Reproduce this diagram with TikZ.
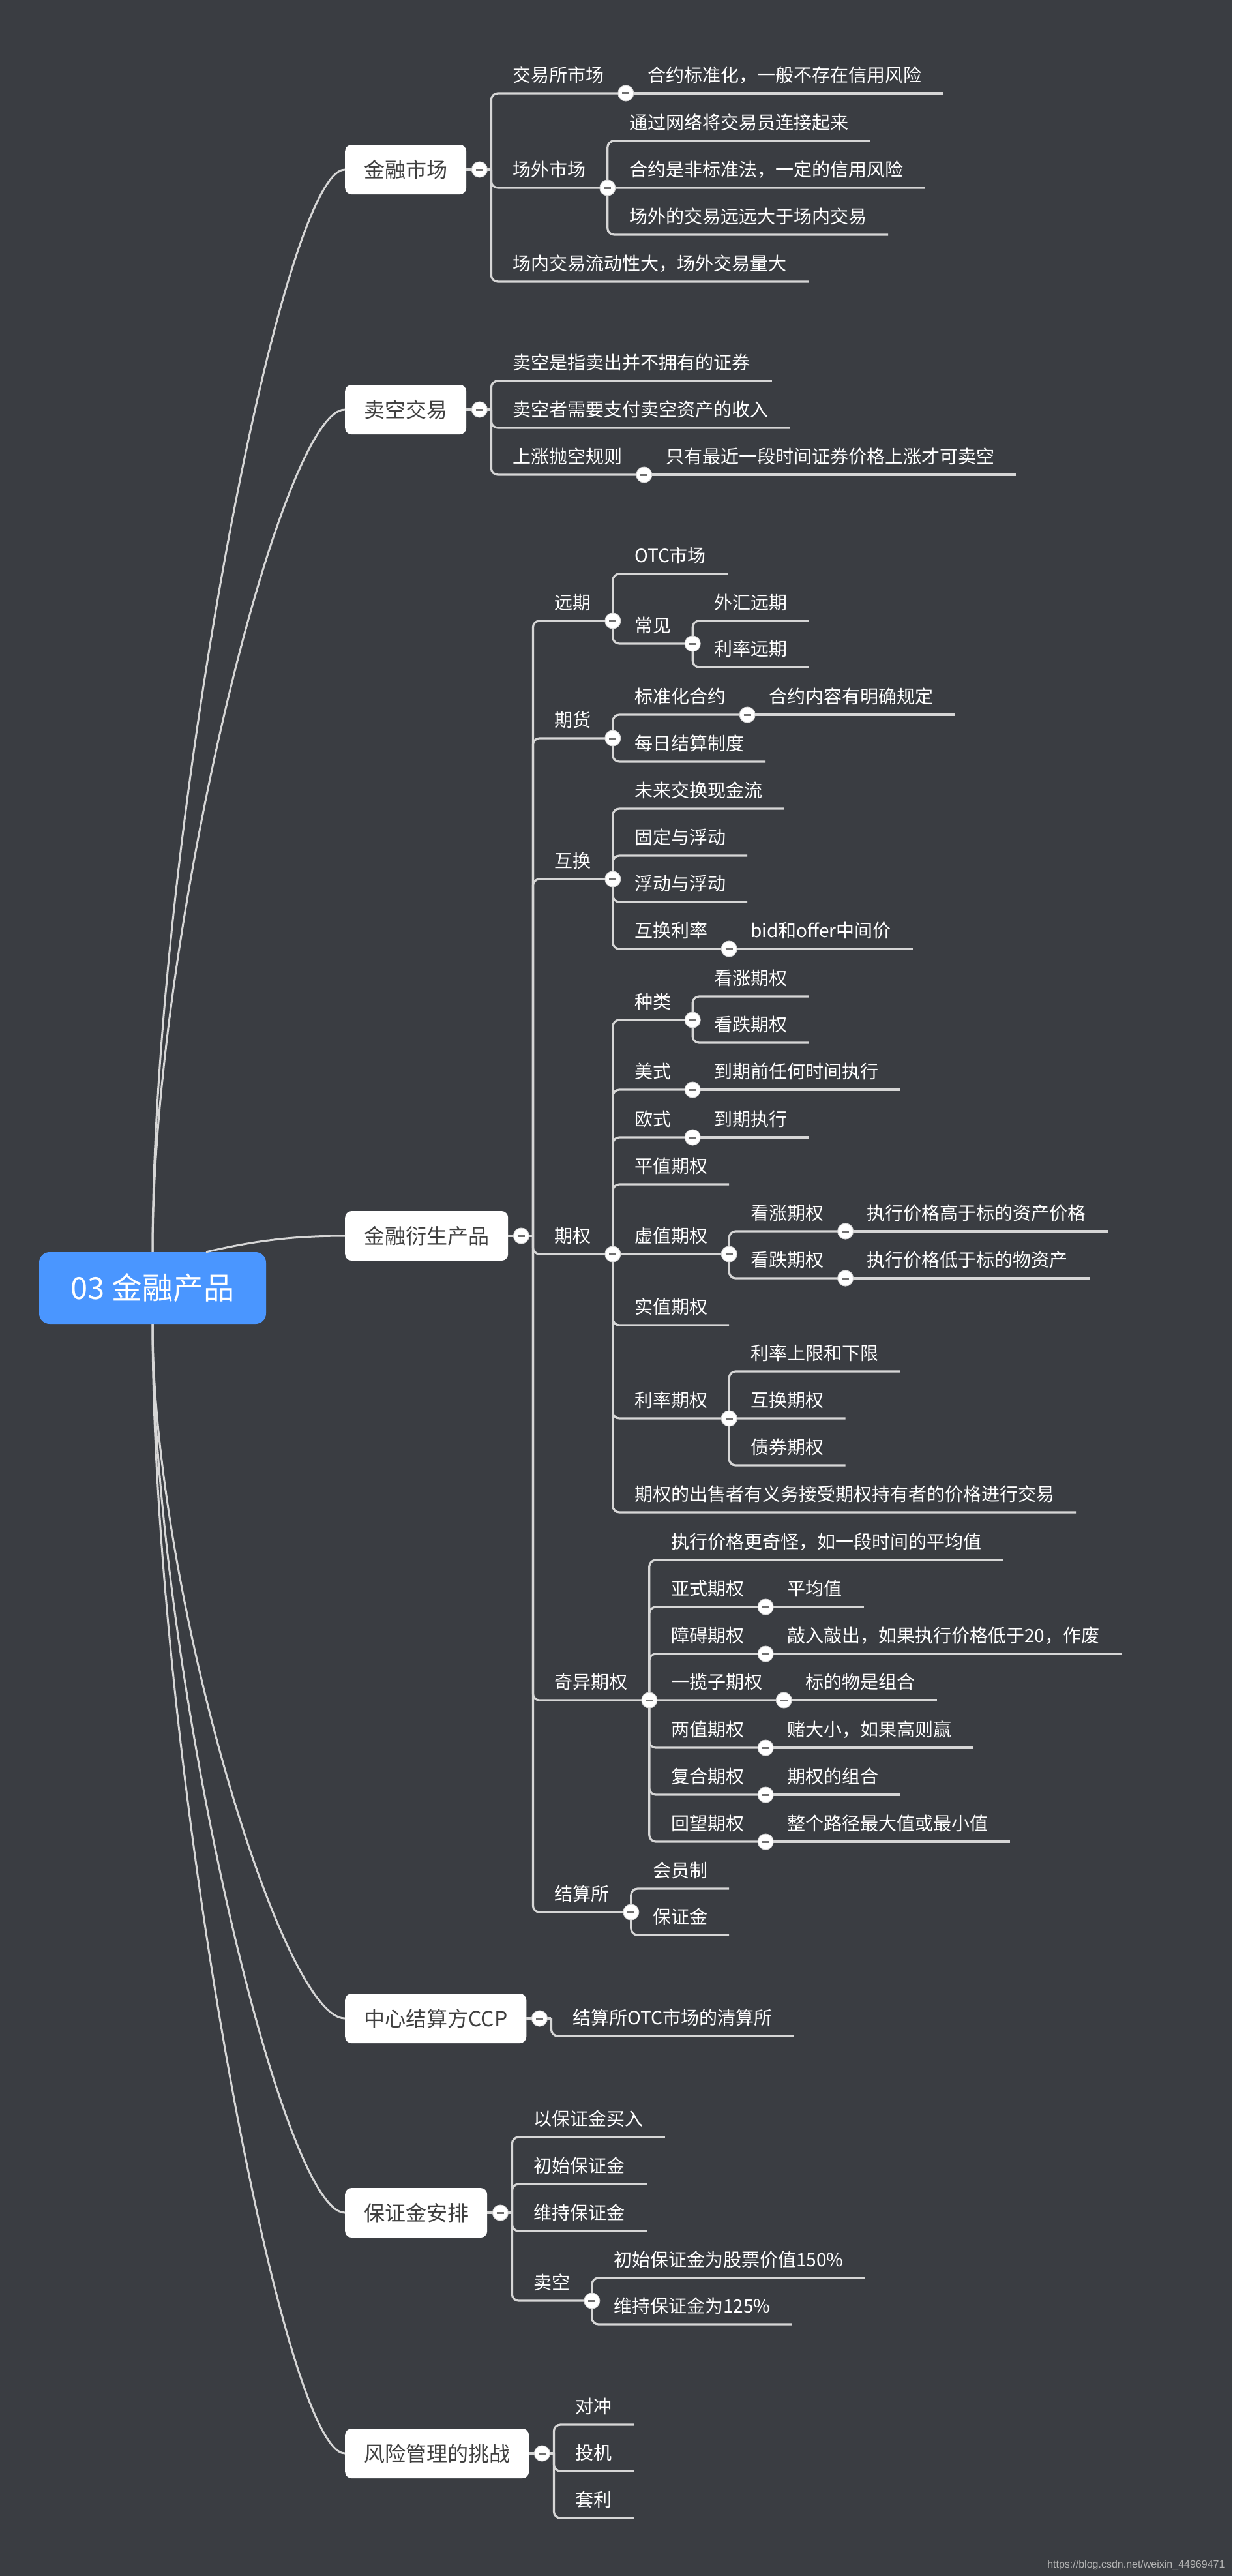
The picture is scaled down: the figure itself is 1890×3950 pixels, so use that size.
\documentclass[tikz,border=0pt]{standalone}
\usepackage{fontspec}
\setmainfont{Noto Sans CJK SC}
\newfontfamily\urlfont{Liberation Sans}
\usepackage{tikz}

\definecolor{bgdark}{HTML}{3A3D42}
\definecolor{linegray}{HTML}{D6D6D6}
\definecolor{rootblue}{HTML}{4A96FF}
\definecolor{boxtext}{HTML}{404040}
\definecolor{foldgray}{HTML}{6E6E6E}
\definecolor{wmgray}{HTML}{B4B4B4}

\begin{document}
\begin{tikzpicture}[x=1pt,y=-1pt,
  root/.style={fill=rootblue,text=white,rounded corners=16pt,minimum width=348pt,minimum height=110pt,font={\fontsize{47}{56}\selectfont}},
  topic/.style={fill=white,text=boxtext,rounded corners=10pt,anchor=west,inner xsep=29pt,minimum height=76pt,font={\fontsize{32}{38}\selectfont}},
  leaf/.style={text=white,anchor=south west,inner xsep=33pt,inner ysep=11pt,text height=22pt,text depth=6pt,font={\fontsize{28}{34}\selectfont}},
  trunk/.style={draw=linegray,line width=3pt},
  branch/.style={draw=linegray,line width=3.2pt,rounded corners=10pt},
  fold/.style={circle,fill=white,draw=linegray,line width=1pt,minimum size=24pt,inner sep=0pt,text=foldgray}]
\fill[bgdark,use as bounding box] (0,0) rectangle (1890,3950);

\node[root] (root) at (234,1975) {03 金融产品};

\node[topic] (m1) at (529,260) {金融市场};
\node[topic] (m2) at (529,628) {卖空交易};
\node[topic] (m3) at (529,1895) {金融衍生产品};
\node[topic] (m4) at (529,3095) {中心结算方CCP};
\node[topic] (m5) at (529,3393) {保证金安排};
\node[topic] (m6) at (529,3762) {风险管理的挑战};
\foreach \i in {1,...,6} \coordinate (m\i s) at ([xshift=38pt]m\i.east);

\draw[trunk] (root.north) .. controls (234,1300) and (431,260) .. (m1.west);
\draw[trunk] (root.north) .. controls (234,1435) and (431,628) .. (m2.west);
\draw[trunk] ([xshift=82pt]root.north) .. controls (380,1905) and (440,1895) .. (m3.west);
\draw[trunk] (root.south) .. controls (234,2430) and (431,3095) .. (m4.west);
\draw[trunk] (root.south) .. controls (234,2541) and (431,3393) .. (m5.west);
\draw[trunk] (root.south) .. controls (234,2680) and (431,3762) .. (m6.west);

\node[leaf] (a1) at (m1s |- 0,143) {交易所市场};
\node[leaf] (a11) at (a1.south east) {合约标准化，一般不存在信用风险};
\node[leaf] (a2) at (m1s |- 0,288) {场外市场};
\node[leaf] (a21) at (a2.south east |- 0,216) {通过网络将交易员连接起来};
\node[leaf] (a22) at (a2.south east) {合约是非标准法，一定的信用风险};
\node[leaf] (a23) at (a2.south east |- 0,360) {场外的交易远远大于场内交易};
\node[leaf] (a3) at (m1s |- 0,432) {场内交易流动性大，场外交易量大};

\node[leaf] (b1) at (m2s |- 0,584) {卖空是指卖出并不拥有的证券};
\node[leaf] (b2) at (m2s |- 0,656) {卖空者需要支付卖空资产的收入};
\node[leaf] (b3) at (m2s |- 0,728) {上涨抛空规则};
\node[leaf] (b31) at (b3.south east) {只有最近一段时间证券价格上涨才可卖空};

\node[leaf] (c1) at (m3s |- 0,952) {远期};
\node[leaf] (c11) at (c1.south east |- 0,880) {OTC市场};
\node[leaf] (c12) at (c1.south east |- 0,987) {常见};
\node[leaf] (c121) at (c12.south east |- 0,952) {外汇远期};
\node[leaf] (c122) at (c12.south east |- 0,1023) {利率远期};
\node[leaf] (c2) at (m3s |- 0,1132) {期货};
\node[leaf] (c21) at (c2.south east |- 0,1096) {标准化合约};
\node[leaf] (c211) at (c21.south east) {合约内容有明确规定};
\node[leaf] (c22) at (c2.south east |- 0,1168) {每日结算制度};
\node[leaf] (c3) at (m3s |- 0,1348) {互换};
\node[leaf] (c31) at (c3.south east |- 0,1240) {未来交换现金流};
\node[leaf] (c32) at (c3.south east |- 0,1312) {固定与浮动};
\node[leaf] (c33) at (c3.south east |- 0,1383) {浮动与浮动};
\node[leaf] (c34) at (c3.south east |- 0,1455) {互换利率};
\node[leaf] (c341) at (c34.south east) {bid和offer中间价};
\node[leaf] (c4) at (m3s |- 0,1923) {期权};
\node[leaf] (c41) at (c4.south east |- 0,1564) {种类};
\node[leaf] (c411) at (c41.south east |- 0,1528) {看涨期权};
\node[leaf] (c412) at (c41.south east |- 0,1599) {看跌期权};
\node[leaf] (c42) at (c4.south east |- 0,1671) {美式};
\node[leaf] (c421) at (c42.south east) {到期前任何时间执行};
\node[leaf] (c43) at (c4.south east |- 0,1744) {欧式};
\node[leaf] (c431) at (c43.south east) {到期执行};
\node[leaf] (c44) at (c4.south east |- 0,1816) {平值期权};
\node[leaf] (c45) at (c4.south east) {虚值期权};
\node[leaf] (c451) at (c45.south east |- 0,1888) {看涨期权};
\node[leaf] (c4511) at (c451.south east) {执行价格高于标的资产价格};
\node[leaf] (c452) at (c45.south east |- 0,1960) {看跌期权};
\node[leaf] (c4521) at (c452.south east) {执行价格低于标的物资产};
\node[leaf] (c46) at (c4.south east |- 0,2032) {实值期权};
\node[leaf] (c47) at (c4.south east |- 0,2175) {利率期权};
\node[leaf] (c471) at (c47.south east |- 0,2103) {利率上限和下限};
\node[leaf] (c472) at (c47.south east) {互换期权};
\node[leaf] (c473) at (c47.south east |- 0,2247) {债券期权};
\node[leaf] (c48) at (c4.south east |- 0,2319) {期权的出售者有义务接受期权持有者的价格进行交易};
\node[leaf] (c5) at (m3s |- 0,2607) {奇异期权};
\node[leaf] (c51) at (c5.south east |- 0,2392) {执行价格更奇怪，如一段时间的平均值};
\node[leaf] (c52) at (c5.south east |- 0,2464) {亚式期权};
\node[leaf] (c521) at (c52.south east) {平均值};
\node[leaf] (c53) at (c5.south east |- 0,2536) {障碍期权};
\node[leaf] (c531) at (c53.south east) {敲入敲出，如果执行价格低于20，作废};
\node[leaf] (c54) at (c5.south east) {一揽子期权};
\node[leaf] (c541) at (c54.south east) {标的物是组合};
\node[leaf] (c55) at (c5.south east |- 0,2680) {两值期权};
\node[leaf] (c551) at (c55.south east) {赌大小，如果高则赢};
\node[leaf] (c56) at (c5.south east |- 0,2752) {复合期权};
\node[leaf] (c561) at (c56.south east) {期权的组合};
\node[leaf] (c57) at (c5.south east |- 0,2824) {回望期权};
\node[leaf] (c571) at (c57.south east) {整个路径最大值或最小值};
\node[leaf] (c6) at (m3s |- 0,2932) {结算所};
\node[leaf] (c61) at (c6.south east |- 0,2896) {会员制};
\node[leaf] (c62) at (c6.south east |- 0,2967) {保证金};

\node[leaf] (d1) at (m4s |- 0,3122) {结算所OTC市场的清算所};

\node[leaf] (e1) at (m5s |- 0,3277) {以保证金买入};
\node[leaf] (e2) at (m5s |- 0,3349) {初始保证金};
\node[leaf] (e3) at (m5s |- 0,3421) {维持保证金};
\node[leaf] (e4) at (m5s |- 0,3528) {卖空};
\node[leaf] (e41) at (e4.south east |- 0,3493) {初始保证金为股票价值150\%};
\node[leaf] (e42) at (e4.south east |- 0,3564) {维持保证金为125\%};

\node[leaf] (f1) at (m6s |- 0,3718) {对冲};
\node[leaf] (f2) at (m6s |- 0,3789) {投机};
\node[leaf] (f3) at (m6s |- 0,3861) {套利};

\foreach \i in {1,...,6} \draw[branch] (m\i.east)--(m\i s);
\foreach \c in {a1,a2,a3} \draw[branch] (m1s) |- (\c.south east);
\foreach \c in {b1,b2,b3} \draw[branch] (m2s) |- (\c.south east);
\foreach \c in {c1,c2,c3,c4,c5,c6} \draw[branch] (m3s) |- (\c.south east);
\draw[branch] (m4s) |- (d1.south east);
\foreach \c in {e1,e2,e3,e4} \draw[branch] (m5s) |- (\c.south east);
\foreach \c in {f1,f2,f3} \draw[branch] (m6s) |- (\c.south east);

\draw[branch] (a1.south east)--(a11.south east);
\foreach \c in {a21,a22,a23} \draw[branch] (a2.south east) |- (\c.south east);
\draw[branch] (b3.south east)--(b31.south east);
\foreach \c in {c11,c12} \draw[branch] (c1.south east) |- (\c.south east);
\foreach \c in {c121,c122} \draw[branch] (c12.south east) |- (\c.south east);
\foreach \c in {c21,c22} \draw[branch] (c2.south east) |- (\c.south east);
\draw[branch] (c21.south east)--(c211.south east);
\foreach \c in {c31,c32,c33,c34} \draw[branch] (c3.south east) |- (\c.south east);
\draw[branch] (c34.south east)--(c341.south east);
\foreach \c in {c41,c42,c43,c44,c45,c46,c47,c48} \draw[branch] (c4.south east) |- (\c.south east);
\foreach \c in {c411,c412} \draw[branch] (c41.south east) |- (\c.south east);
\draw[branch] (c42.south east)--(c421.south east);
\draw[branch] (c43.south east)--(c431.south east);
\foreach \c in {c451,c452} \draw[branch] (c45.south east) |- (\c.south east);
\draw[branch] (c451.south east)--(c4511.south east);
\draw[branch] (c452.south east)--(c4521.south east);
\foreach \c in {c471,c472,c473} \draw[branch] (c47.south east) |- (\c.south east);
\foreach \c in {c51,c52,c53,c54,c55,c56,c57} \draw[branch] (c5.south east) |- (\c.south east);
\draw[branch] (c52.south east)--(c521.south east);
\draw[branch] (c53.south east)--(c531.south east);
\draw[branch] (c54.south east)--(c541.south east);
\draw[branch] (c55.south east)--(c551.south east);
\draw[branch] (c56.south east)--(c561.south east);
\draw[branch] (c57.south east)--(c571.south east);
\foreach \c in {c61,c62} \draw[branch] (c6.south east) |- (\c.south east);
\foreach \c in {e41,e42} \draw[branch] (e4.south east) |- (\c.south east);

\foreach \i in {1,...,6} \node[fold] (m\i o) at ([xshift=20pt]m\i.east) {\rule[-1.5pt]{11pt}{3pt}};
\foreach \p in {a1,a2,b3,c1,c12,c2,c21,c3,c34,c4,c41,c42,c43,c45,c451,c452,c47,c5,c52,c53,c54,c55,c56,c57,c6,e4}
  \node[fold] (\p o) at (\p.south east) {\rule[-1.5pt]{11pt}{3pt}};

\node[anchor=base east,text=wmgray,font={\urlfont\fontsize{16}{19}\selectfont}] (wm) at (1882,3937) {https://blog.csdn.net/weixin\_44969471};
\end{tikzpicture}
\end{document}
